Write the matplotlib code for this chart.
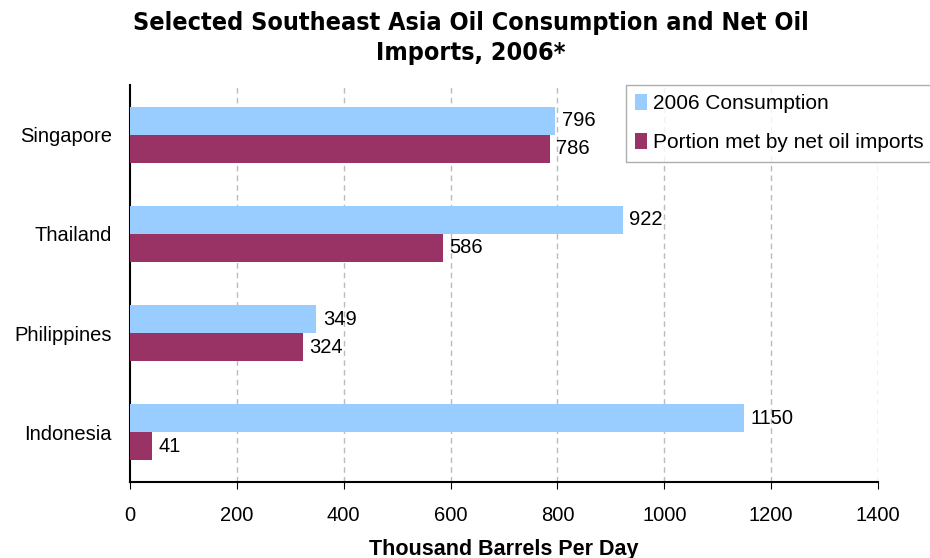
import numpy as np
import matplotlib.pyplot as plt

countries = ['Singapore', 'Thailand', 'Philippines', 'Indonesia']
consumption = [796, 922, 349, 1150]
net_imports = [786, 586, 324, 41]
xticks = [0, 200, 400, 600, 800, 1000, 1200, 1400]

plt.rcParams['font.family'] = ['Liberation Sans', 'DejaVu Sans']

fig = plt.figure(figsize=(9.3, 5.58), dpi=100)
ax = fig.add_axes([130/930, 1 - 482/558, 748/930, 397/558])

y = np.arange(len(countries))
h = 0.283
ax.barh(y - h/2, consumption, height=h, color='#99CCFF', label='2006 Consumption', zorder=3)
ax.barh(y + h/2, net_imports, height=h, color='#993366', label='Portion met by net oil imports', zorder=3)

for i in range(len(countries)):
    ax.text(consumption[i] + 12, y[i] - h/2, str(consumption[i]), va='center', ha='left', fontsize=14.5, zorder=4)
    ax.text(net_imports[i] + 12, y[i] + h/2, str(net_imports[i]), va='center', ha='left', fontsize=14.5, zorder=4)

ax.set_ylim(3.5, -0.5)
ax.set_xlim(0, 1400)
ax.set_yticks(y)
ax.set_yticklabels(countries, fontsize=14.5)
ax.set_xticks(xticks)
ax.set_xticklabels([str(t) for t in xticks], fontsize=14.5)
ax.tick_params(axis='y', length=0, pad=13)
ax.tick_params(axis='x', length=5, direction='out', pad=12)
for t in xticks[1:]:
    ax.axvline(t, color='#BBBBBB', linestyle=(0, (4, 3)), linewidth=1, zorder=1)

ax.spines['top'].set_visible(False)
ax.spines['right'].set_visible(False)
ax.spines['left'].set_linewidth(1.5)
ax.spines['bottom'].set_linewidth(1.5)

ax.set_xlabel('Thousand Barrels Per Day', fontsize=15.5, fontweight='bold', labelpad=10)

fig.text(471/930, 1 - 38/558, 'Selected Southeast Asia Oil Consumption and Net Oil\nImports, 2006*',
         ha='center', va='center', fontsize=18, fontweight='bold', fontstretch='condensed',
         family=['DejaVu Sans'], linespacing=1.3)

leg = ax.legend(loc='upper left', bbox_to_anchor=(626/930, 1 - 85/558), bbox_transform=fig.transFigure,
                fontsize=15, frameon=True, fancybox=False, handlelength=0.55, handleheight=0.75,
                handletextpad=0.3, borderpad=0.45, labelspacing=0.95, borderaxespad=0)
leg.get_frame().set_edgecolor('#999999')
leg.get_frame().set_linewidth(1)

fig.savefig('out.png', dpi=100)
